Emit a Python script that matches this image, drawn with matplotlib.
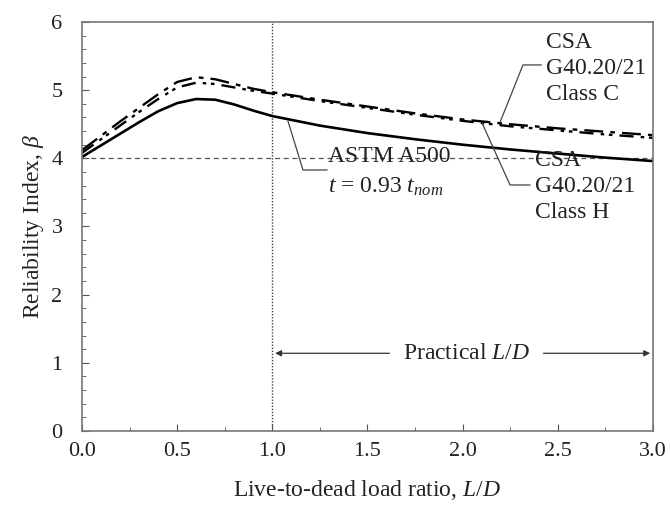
import numpy as np
import matplotlib
matplotlib.use('Agg')
import matplotlib.pyplot as plt
from matplotlib.ticker import MultipleLocator

plt.rcParams['font.family'] = ['Liberation Serif', 'DejaVu Serif']
plt.rcParams['mathtext.fontset'] = 'custom'
plt.rcParams['mathtext.rm'] = 'Liberation Serif'
plt.rcParams['mathtext.it'] = 'Liberation Serif:italic'
plt.rcParams['font.size'] = 17

# live-to-dead load ratio and reliability index for each section type
ld = [0, 0.1, 0.2, 0.3, 0.4, 0.5, 0.6, 0.7, 0.8, 0.9, 1.0,
      1.25, 1.5, 1.75, 2.0, 2.25, 2.5, 2.75, 3.0]
beta_astm = [4.02, 4.19, 4.36, 4.53, 4.69, 4.81, 4.87, 4.86, 4.79, 4.70, 4.62,
             4.48, 4.37, 4.28, 4.20, 4.13, 4.07, 4.01, 3.96]
beta_csa_c = [4.12, 4.33, 4.54, 4.74, 4.94, 5.12, 5.19, 5.16, 5.09, 5.02, 4.97,
              4.86, 4.76, 4.66, 4.57, 4.50, 4.44, 4.39, 4.34]
beta_csa_h = [4.08, 4.28, 4.48, 4.68, 4.87, 5.04, 5.11, 5.09, 5.04, 4.99, 4.95,
              4.84, 4.74, 4.64, 4.55, 4.47, 4.41, 4.35, 4.30]
beta_target = 4.0

fig = plt.figure(figsize=(6.7, 5.08), dpi=100)
ax = fig.add_axes([0.1224, 0.1516, 0.8522, 0.8051])

ax.axhline(beta_target, color='#555555', lw=0.9, ls=(0, (4, 3)), zorder=1)
ax.axvline(1.0, color='#444444', lw=1.0, ls=(0, (1, 1.2)), zorder=1)

ax.plot(ld, beta_csa_c, color='black', lw=1.7, ls=(0, (8, 3, 2, 3)))
ax.plot(ld, beta_csa_h, color='black', lw=1.7, ls=(0, (6, 3, 1.5, 2, 1.5, 3)))
ax.plot(ld, beta_astm, color='black', lw=1.9)

# leader lines from the labels to the curves
lead = dict(color='#444444', lw=0.9)
ax.plot([2.412, 2.317, 2.197], [5.37, 5.37, 4.533], **lead)
ax.plot([2.353, 2.249, 2.102], [3.609, 3.609, 4.518], **lead)
ax.plot([1.287, 1.161, 1.082], [3.829, 3.829, 4.547], **lead)

ax.text(2.44, 5.86, 'CSA\nG40.20/21\nClass C', ha='left', va='top',
        linespacing=1.32, color='#222222')
ax.text(2.38, 4.12, 'CSA\nG40.20/21\nClass H', ha='left', va='top',
        linespacing=1.32, color='#222222')
ax.text(1.29, 4.02, 'ASTM A500', ha='left', va='center', color='#222222')
ax.text(1.29, 3.58, '$t$ = 0.93 $t_{nom}$', ha='left', va='center', color='#222222')

y_arr = 1.14
ax.text(2.02, y_arr, 'Practical $L/D$', ha='center', va='center', color='#222222')
arr = dict(arrowstyle='-|>', color='#333333', lw=0.9, mutation_scale=9)
ax.annotate('', xy=(1.0, y_arr), xytext=(1.63, y_arr), arrowprops=arr)
ax.annotate('', xy=(3.0, y_arr), xytext=(2.41, y_arr), arrowprops=arr)

ax.set_xlim(0, 3)
ax.set_ylim(0, 6)
ax.xaxis.set_major_locator(MultipleLocator(0.5))
ax.xaxis.set_minor_locator(MultipleLocator(0.25))
ax.yaxis.set_major_locator(MultipleLocator(1))
ax.yaxis.set_minor_locator(MultipleLocator(0.2))
ax.xaxis.set_major_formatter(plt.FormatStrFormatter('%.1f'))
ax.tick_params(which='both', direction='in', color='#555555', labelcolor='#222222',
               labelsize=16)
ax.tick_params(which='major', length=5)
ax.tick_params(which='minor', length=3)
ax.tick_params(axis='x', which='major', pad=8)
ax.tick_params(axis='y', which='major', pad=14)
for s in ax.spines.values():
    s.set_color('#777777')
    s.set_linewidth(1.2)

ax.set_xlabel('Live-to-dead load ratio, $L/D$', color='#222222', labelpad=12)
ax.set_ylabel(r'Reliability Index, $\beta$', color='#222222', labelpad=4)

fig.savefig('out.png', dpi=100)
